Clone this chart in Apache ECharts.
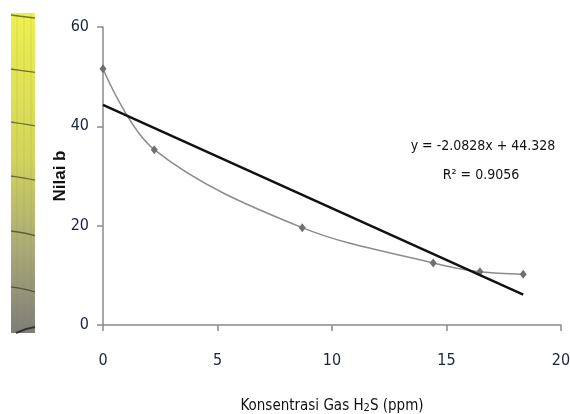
<!DOCTYPE html>
<html>
<head>
<meta charset="utf-8">
<script src="https://cdn.jsdelivr.net/npm/echarts@6/dist/echarts.min.js"></script>
<style>
  html, body { margin: 0; padding: 0; background: #fff; }
  #chart { width: 570px; height: 414px; }
</style>
</head>
<body>
<div id="chart"></div>
<script>
// data
var konsentrasi = [0, 2.24, 8.7, 14.42, 16.46, 18.35];
var nilaiB = [51.6, 35.3, 19.6, 12.5, 10.7, 10.2];
// linear trend (from the equation label)
var trendSlope = -2.0828;
var trendIntercept = 44.328;
var trendX = [0, 18.35];
var xTicks = [0, 5, 10, 15, 20];
var yTicks = [0, 20, 40, 60];

var fontFam = '"Liberation Sans Narrow", "DejaVu Sans Condensed", "Liberation Sans", sans-serif';
var labelColor = '#1c2340';

var chart = echarts.init(document.getElementById('chart'));

var curveData = konsentrasi.map(function (x, i) { return [x, nilaiB[i]]; });
var trendData = trendX.map(function (x) { return [x, trendIntercept + trendSlope * x]; });

// strip on the left (cropped photo edge)
var strip = [{
    type: 'rect',
    shape: { x: 11, y: 13, width: 24, height: 320 },
    style: {
        fill: new echarts.graphic.LinearGradient(0, 0, 0, 1, [
            { offset: 0, color: '#eef04e' },
            { offset: 0.45, color: '#d2d45c' },
            { offset: 0.75, color: '#a8a878' },
            { offset: 1, color: '#7e7e7a' }
        ])
    },
    silent: true
}];
for (var k = 0; k < 3; k++) {
    strip.push({
        type: 'line',
        shape: { x1: 17 + k * 7, y1: 13, x2: 17 + k * 7, y2: 333 },
        style: { stroke: 'rgba(120,120,60,0.15)', lineWidth: 1 },
        silent: true
    });
}
[16, 70, 123, 177, 232, 288].forEach(function (yy, i) {
    strip.push({
        type: 'bezierCurve',
        shape: { x1: 11, y1: yy - 1, cpx1: 18, cpy1: yy, cpx2: 26, cpy2: yy + 1, x2: 35, y2: yy + 2 + i * 0.4 },
        style: { stroke: 'rgba(40,40,30,0.6)', lineWidth: 1.3, fill: null },
        silent: true
    });
});
strip.push({
    type: 'bezierCurve',
    shape: { x1: 16, y1: 333, cpx1: 22, cpy1: 330, cpx2: 28, cpy2: 328, x2: 35, y2: 327 },
    style: { stroke: 'rgba(30,30,30,0.8)', lineWidth: 2, fill: null },
    silent: true
});

var option = {
    backgroundColor: '#fff',
    animation: false,
    grid: { left: 103, right: 9, top: 27, bottom: 89, outerBoundsMode: 'none' },
    xAxis: {
        type: 'value',
        min: 0,
        max: 20,
        interval: 5,
        name: '{a|Konsentrasi Gas H}{s|2}{a|S (ppm)}',
        nameLocation: 'middle',
        nameGap: 74,
        nameMoveOverlap: false,
        nameTextStyle: {
            rich: {
                a: { fontFamily: fontFam, fontSize: 15, color: '#111' },
                s: { fontFamily: fontFam, fontSize: 11, color: '#111', verticalAlign: 'bottom', padding: [4, 0, 0, 0] }
            }
        },
        axisLine: { lineStyle: { color: '#8a8a8a', width: 1.5 } },
        axisTick: { show: true, length: 6, lineStyle: { color: '#8a8a8a', width: 1.5 } },
        axisLabel: {
            margin: 28,
            fontFamily: fontFam, fontSize: 16, color: labelColor,
            customValues: xTicks
        },
        splitLine: { show: false }
    },
    yAxis: {
        type: 'value',
        min: 0,
        max: 60,
        interval: 20,
        name: 'Nilai b',
        nameLocation: 'middle',
        nameGap: 34,
        nameMoveOverlap: false,
        nameRotate: 90,
        nameTextStyle: { fontFamily: 'Liberation Sans, Arial, sans-serif', fontSize: 17, fontWeight: 'bold', color: '#111', padding: [0, 0, 0, 0] },
        axisLine: { show: true, lineStyle: { color: '#8a8a8a', width: 1.5 } },
        axisTick: { show: true, length: 6, lineStyle: { color: '#8a8a8a', width: 1.5 } },
        axisLabel: {
            margin: 14,
            fontFamily: fontFam, fontSize: 16, color: labelColor,
            customValues: yTicks
        },
        splitLine: { show: false }
    },
    series: [
        {
            type: 'line',
            data: curveData,
            smooth: 0.35,
            symbol: 'diamond',
            symbolSize: [7, 9],
            lineStyle: { color: '#8c8c8c', width: 1.5 },
            itemStyle: { color: '#707070' },
            z: 2
        },
        {
            type: 'line',
            data: trendData,
            symbol: 'none',
            lineStyle: { color: '#111', width: 2.5 },
            z: 3
        }
    ],
    graphic: strip.concat([
        {
            type: 'text',
            x: 483, y: 146,
            style: {
                text: 'y = -2.0828x + 44.328',
                fontFamily: fontFam, fontSize: 14, fill: '#111',
                align: 'center', verticalAlign: 'middle'
            }
        },
        {
            type: 'text',
            x: 481, y: 175,
            style: {
                text: 'R² = 0.9056',
                fontFamily: fontFam, fontSize: 14, fill: '#111',
                align: 'center', verticalAlign: 'middle'
            }
        }
    ])
};

chart.setOption(option);
</script>
</body>
</html>
